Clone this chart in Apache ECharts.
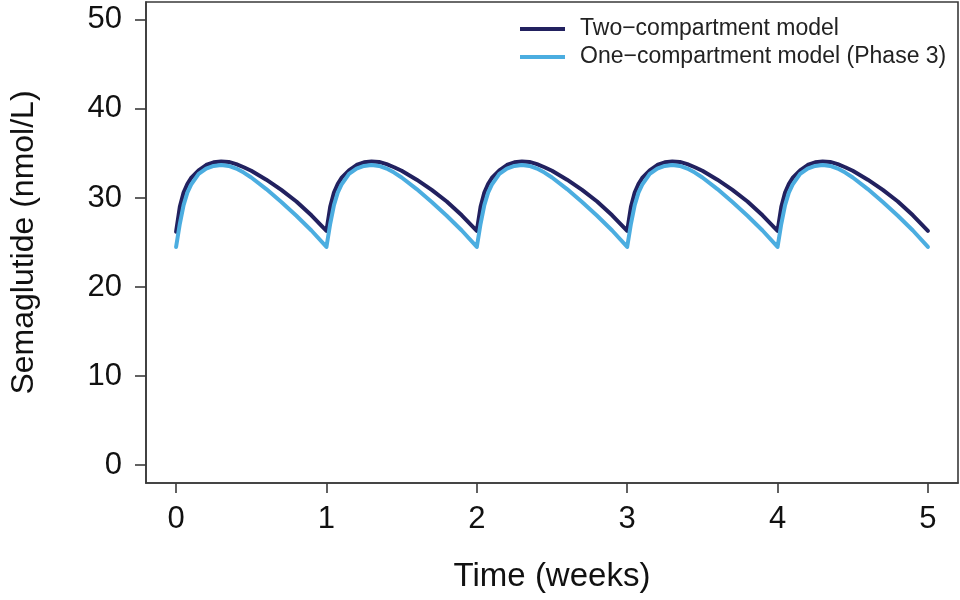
<!DOCTYPE html>
<html>
<head>
<meta charset="utf-8">
<script src="https://cdn.jsdelivr.net/npm/echarts@6/dist/echarts.min.js"></script>
<style>
  html, body { margin: 0; padding: 0; background: #ffffff; }
  #chart { width: 960px; height: 600px; }
</style>
</head>
<body>
<div id="chart"></div>
<script>
// ---- Data ----
const timeWeeks = [
  0, 0.025, 0.05, 0.075, 0.1, 0.15, 0.2, 0.25, 0.3, 0.35, 0.4, 0.45, 0.5, 0.6, 0.7, 0.8, 0.9,
  1, 1.025, 1.05, 1.075, 1.1, 1.15, 1.2, 1.25, 1.3, 1.35, 1.4, 1.45, 1.5, 1.6, 1.7, 1.8, 1.9,
  2, 2.025, 2.05, 2.075, 2.1, 2.15, 2.2, 2.25, 2.3, 2.35, 2.4, 2.45, 2.5, 2.6, 2.7, 2.8, 2.9,
  3, 3.025, 3.05, 3.075, 3.1, 3.15, 3.2, 3.25, 3.3, 3.35, 3.4, 3.45, 3.5, 3.6, 3.7, 3.8, 3.9,
  4, 4.025, 4.05, 4.075, 4.1, 4.15, 4.2, 4.25, 4.3, 4.35, 4.4, 4.45, 4.5, 4.6, 4.7, 4.8, 4.9,
  5
];
const twoCompartment = [
  26.2, 29.0, 30.6, 31.55, 32.25, 33.1, 33.7, 34.0, 34.1, 34.05, 33.8, 33.45, 33.05, 32.05, 30.9, 29.6, 28.05,
  26.3, 29.0, 30.6, 31.55, 32.25, 33.1, 33.7, 34.0, 34.1, 34.05, 33.8, 33.45, 33.05, 32.05, 30.9, 29.6, 28.05,
  26.3, 29.0, 30.6, 31.55, 32.25, 33.1, 33.7, 34.0, 34.1, 34.05, 33.8, 33.45, 33.05, 32.05, 30.9, 29.6, 28.05,
  26.3, 29.0, 30.6, 31.55, 32.25, 33.1, 33.7, 34.0, 34.1, 34.05, 33.8, 33.45, 33.05, 32.05, 30.9, 29.6, 28.05,
  26.3, 29.0, 30.6, 31.55, 32.25, 33.1, 33.7, 34.0, 34.1, 34.05, 33.8, 33.45, 33.05, 32.05, 30.9, 29.6, 28.05,
  26.3
];
const oneCompartment = [
  24.5, 27.1, 29.2, 30.6, 31.5, 32.7, 33.3, 33.6, 33.7, 33.6, 33.3, 32.85, 32.3, 31.0, 29.55, 28.0, 26.35,
  24.5, 27.1, 29.2, 30.6, 31.5, 32.7, 33.3, 33.6, 33.7, 33.6, 33.3, 32.85, 32.3, 31.0, 29.55, 28.0, 26.35,
  24.5, 27.1, 29.2, 30.6, 31.5, 32.7, 33.3, 33.6, 33.7, 33.6, 33.3, 32.85, 32.3, 31.0, 29.55, 28.0, 26.35,
  24.5, 27.1, 29.2, 30.6, 31.5, 32.7, 33.3, 33.6, 33.7, 33.6, 33.3, 32.85, 32.3, 31.0, 29.55, 28.0, 26.35,
  24.5, 27.1, 29.2, 30.6, 31.5, 32.7, 33.3, 33.6, 33.7, 33.6, 33.3, 32.85, 32.3, 31.0, 29.55, 28.0, 26.35,
  24.5
];
const xTickValues = [0, 1, 2, 3, 4, 5];
const yTickValues = [0, 10, 20, 30, 40, 50];
const seriesNames = ['Two\u2212compartment model', 'One\u2212compartment model (Phase 3)'];
const xTitle = 'Time (weeks)';
const yTitle = 'Semaglutide (nmol/L)';

// ---- Chart ----
const FONT = "'Liberation Sans', Arial, Helvetica, sans-serif";
const chart = echarts.init(document.getElementById('chart'), null, { renderer: 'canvas' });

function pairs(xs, ys) { return xs.map((x, i) => [x, ys[i]]); }

const option = {
  animation: false,
  backgroundColor: '#ffffff',
  grid: {
    left: 146, right: 2, top: 2, bottom: 117,
    show: true, borderColor: '#3a3a3a', borderWidth: 1.6, backgroundColor: 'transparent'
  },
  legend: {
    orient: 'vertical',
    left: 515, top: 12,
    icon: 'rect',
    itemWidth: 45, itemHeight: 4,
    itemGap: 4,
    textStyle: { fontFamily: FONT, fontSize: 23, color: '#222', lineHeight: 24, padding: [0, 0, 0, 10] },
    data: seriesNames
  },
  xAxis: {
    type: 'value',
    min: -0.2, max: 5.2,
    name: xTitle,
    nameLocation: 'middle',
    nameGap: 77,
    nameTextStyle: { fontFamily: FONT, fontSize: 33, color: '#111' },
    axisLine: { show: true, onZero: false, lineStyle: { color: '#3a3a3a', width: 1.6 } },
    axisTick: { show: true, inside: false, length: 10, lineStyle: { color: '#3a3a3a', width: 1.6 }, customValues: xTickValues },
    axisLabel: { fontFamily: FONT, fontSize: 31, color: '#111', margin: 21, customValues: xTickValues },
    splitLine: { show: false }
  },
  yAxis: {
    type: 'value',
    min: -2, max: 52,
    name: yTitle,
    nameLocation: 'middle',
    nameGap: 106,
    nameTextStyle: { fontFamily: FONT, fontSize: 32, color: '#111' },
    axisLine: { show: true, onZero: false, lineStyle: { color: '#3a3a3a', width: 1.6 } },
    axisTick: { show: true, inside: false, length: 11, lineStyle: { color: '#3a3a3a', width: 1.6 }, customValues: yTickValues },
    axisLabel: { fontFamily: FONT, fontSize: 31, color: '#111', margin: 24, customValues: yTickValues },
    splitLine: { show: false }
  },
  series: [
    {
      name: seriesNames[0],
      type: 'line',
      data: pairs(timeWeeks, twoCompartment),
      showSymbol: false,
      smooth: false,
      lineStyle: { color: '#22215f', width: 4, join: 'round', cap: 'round' },
      itemStyle: { color: '#22215f' },
      z: 2
    },
    {
      name: seriesNames[1],
      type: 'line',
      data: pairs(timeWeeks, oneCompartment),
      showSymbol: false,
      smooth: false,
      lineStyle: { color: '#4bade0', width: 4, join: 'round', cap: 'round' },
      itemStyle: { color: '#4bade0' },
      z: 3
    }
  ]
};
chart.setOption(option);
</script>
</body>
</html>
